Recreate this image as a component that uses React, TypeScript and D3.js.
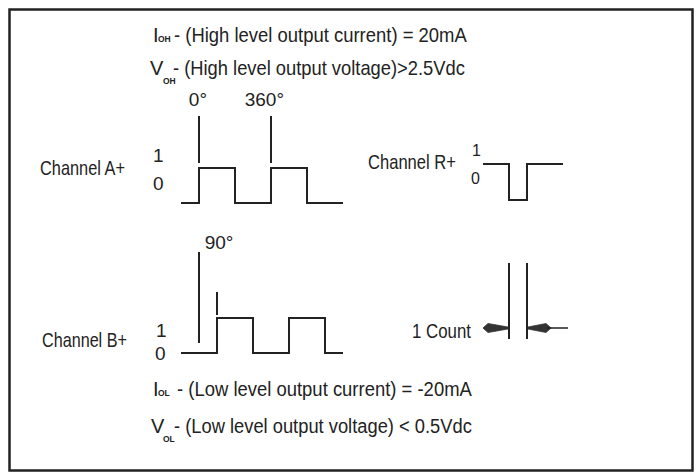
import React, { useEffect, useRef } from "react";
import * as d3 from "d3";

// square wave edges, phase in electrical degrees, level 0/1
const channelA = [
  { deg: -90, level: 0 },
  { deg: 0, level: 1 },
  { deg: 180, level: 0 },
  { deg: 360, level: 1 },
  { deg: 540, level: 0 },
  { deg: 720, level: 0 },
];
const channelB = [
  { deg: -90, level: 0 },
  { deg: 90, level: 1 },
  { deg: 270, level: 0 },
  { deg: 450, level: 1 },
  { deg: 630, level: 0 },
  { deg: 720, level: 0 },
];
const channelR = [
  { deg: -130, level: 1 },
  { deg: 0, level: 0 },
  { deg: 90, level: 1 },
  { deg: 270, level: 1 },
];
const phaseMarks = [0, 360];
const phaseLabels = ["0°", "360°"];
const shiftMark = 90;
const shiftLabel = "90°";
const countEdges = [0, 90];
const levelLabels = ["1", "0"];

const topSpecs = [
  { sym: "I", sub: "OH", text: "- (High level output current) = 20mA" },
  { sym: "V", sub: "OH", text: "- (High level output voltage)>2.5Vdc" },
];
const bottomSpecs = [
  { sym: "I", sub: "OL", text: "- (Low level output current) = -20mA" },
  { sym: "V", sub: "OL", text: "- (Low level output voltage) < 0.5Vdc" },
];

const FONT = "'Liberation Sans Narrow', 'Arial Narrow', 'Liberation Sans', Arial, sans-serif";
const INK = "#222";

const App = () => {
  const ref = useRef<SVGSVGElement>(null);
  const width = 699,
    height = 474;

  useEffect(() => {
    const svg = d3.select(ref.current);
    svg.selectAll("*").remove();

    const xAB = d3.scaleLinear().domain([-90, 720]).range([181, 343]);
    const xR = d3.scaleLinear().domain([-130, 270]).range([483, 563]);
    const yA = d3.scaleLinear().domain([0, 1]).range([203, 168]);
    const yB = d3.scaleLinear().domain([0, 1]).range([353, 318]);
    const yR = d3.scaleLinear().domain([0, 1]).range([200, 164]);

    // frame
    svg
      .append("rect")
      .attr("x", 9.5)
      .attr("y", 9.5)
      .attr("width", 683)
      .attr("height", 461)
      .attr("fill", "none")
      .attr("stroke", INK)
      .attr("stroke-width", 2.5);

    // condensed text: squeeze horizontally to the width seen in the scan
    const txt = (x, y, s, size, len?, anchor = "start") => {
      const t = svg
        .append("text")
        .attr("x", x)
        .attr("y", y)
        .attr("text-anchor", anchor)
        .style("font-family", FONT)
        .style("font-size", size + "px")
        .style("fill", INK)
        .text(s);
      if (len) {
        const w = (t.node() as SVGTextElement).getComputedTextLength() || len;
        t.attr("x", 0)
          .attr("y", 0)
          .attr("transform", `translate(${x},${y}) scale(${len / w},1)`);
      }
      return t;
    };

    // spec lines
    const specRows = [
      { spec: topSpecs[0], y: 42, symX: 153, subX: 158, subDy: 0, textX: 174, len: 293 },
      { spec: topSpecs[1], y: 75, symX: 150, subX: 163, subDy: 9, textX: 173, len: 292 },
      { spec: bottomSpecs[0], y: 396, symX: 153, subX: 158, subDy: 0, textX: 177, len: 295 },
      { spec: bottomSpecs[1], y: 433, symX: 151, subX: 163, subDy: 9, textX: 174, len: 298 },
    ];
    specRows.forEach((r) => {
      txt(r.symX, r.y, r.spec.sym, 20);
      txt(r.subX, r.y + r.subDy, r.spec.sub, 8.5).style("font-weight", "bold");
      txt(r.textX, r.y, r.spec.text, 20, r.len);
    });

    const wave = (data, x, y) =>
      d3
        .line<any>()
        .x((d) => x(d.deg))
        .y((d) => y(d.level))
        .curve(d3.curveStepAfter)(data);

    const drawWave = (data, x, y) =>
      svg
        .append("path")
        .attr("d", wave(data, x, y))
        .attr("fill", "none")
        .attr("stroke", INK)
        .attr("stroke-width", 2);

    const vline = (x, y1, y2) =>
      svg
        .append("line")
        .attr("x1", x)
        .attr("x2", x)
        .attr("y1", y1)
        .attr("y2", y2)
        .attr("stroke", INK)
        .attr("stroke-width", 2);

    // Channel A+
    txt(40, 175, "Channel A+", 20, 85);
    txt(153, 162, levelLabels[0], 19);
    txt(153, 190, levelLabels[1], 19);
    drawWave(channelA, xAB, yA);
    phaseMarks.forEach((p, i) => {
      vline(xAB(p), 116, 163);
      txt(xAB(p) + (i === 0 ? 8 : 13), 106, phaseLabels[i], 19, null, "end");
    });

    // Channel R+
    txt(368, 169, "Channel R+", 20, 88);
    txt(472, 156, levelLabels[0], 16);
    txt(471, 184, levelLabels[1], 16);
    drawWave(channelR, xR, yR);

    // Channel B+
    txt(42, 347, "Channel B+", 20, 85);
    txt(156, 337, levelLabels[0], 19);
    txt(155, 360, levelLabels[1], 19);
    drawWave(channelB, xAB, yB);
    vline(xAB(0), 252, 343);
    vline(xAB(shiftMark), 292, 315);
    txt(xAB(shiftMark) + 2, 249, shiftLabel, 19, null, "middle");

    // 1 Count
    const [c0, c1] = countEdges.map((d) => xR(d));
    countEdges.forEach((d) => vline(xR(d), 263, 339));
    txt(412, 338, "1 Count", 20, 59);
    const ay = 328;
    const wedge = (tip, outer) => {
      const dir = Math.sign(outer - tip);
      const p = d3.path();
      p.moveTo(tip, ay - 1);
      p.lineTo(outer - dir * 5, ay - 4.5);
      p.lineTo(outer, ay);
      p.lineTo(outer - dir * 5, ay + 4.5);
      p.lineTo(tip, ay + 1);
      p.closePath();
      svg.append("path").attr("d", p.toString()).attr("fill", "#333").attr("stroke", "#333").attr("stroke-width", 0.8);
    };
    wedge(c0 - 1, c0 - 26);
    wedge(c1 + 1, c1 + 24);
    svg
      .append("line")
      .attr("x1", c1 + 20)
      .attr("x2", c1 + 41)
      .attr("y1", ay)
      .attr("y2", ay)
      .attr("stroke", INK)
      .attr("stroke-width", 1.5);
  }, []);

  return (
    <svg
      ref={ref}
      width={width}
      height={height}
      style={{ position: "absolute", left: 0, top: 0, background: "#fff" }}
    />
  );
};
export default App;
